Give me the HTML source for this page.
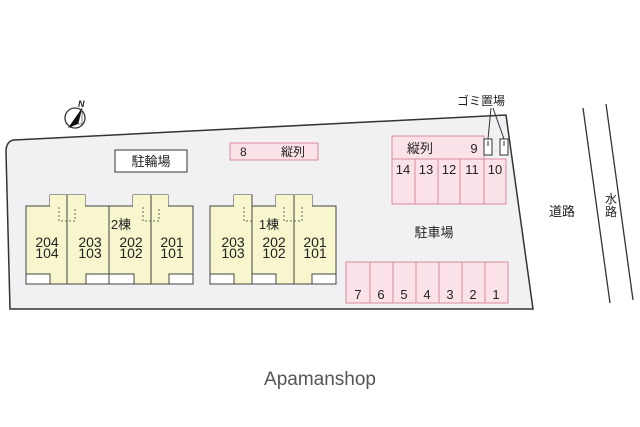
<!DOCTYPE html>
<html><head><meta charset="utf-8"><style>
html,body{margin:0;padding:0;background:#fff;}
svg{display:block;}
text{font-family:"Liberation Sans","Noto Sans CJK JP",sans-serif;fill:#222;}
</style></head><body>
<svg width="640" height="427" viewBox="0 0 640 427" xmlns="http://www.w3.org/2000/svg">
<path d="M14,140 L506,115 L533,309 L10,309 L6,152 Q6,141 14,140 Z" fill="#f1f1f3" stroke="#333" stroke-width="1.5"/>
<circle cx="75" cy="118" r="10" fill="#fff" stroke="#333" stroke-width="1.3"/>
<path d="M82,108 L68,128 L78,124 Z" fill="#111"/>
<path d="M82,108 L78,124 L82,124 Z" fill="#fff" stroke="#333" stroke-width="0.6"/>
<text x="78" y="107" font-size="9" font-style="italic" font-weight="bold">N</text>
<rect x="115" y="150" width="72" height="22" fill="#fff" stroke="#333"/>
<text x="151" y="166" font-size="13" text-anchor="middle">駐輪場</text>
<rect x="230" y="143" width="88" height="17" fill="#fbe2e8" stroke="#d98a9a"/>
<text x="240" y="156" font-size="12">8</text>
<text x="293" y="156" font-size="12" text-anchor="middle">縦列</text>
<g fill="#f8f6cc" stroke="#444" stroke-width="1">
<rect x="50" y="195" width="35" height="12"/>
<rect x="133" y="195" width="35" height="12"/>
<rect x="26" y="206" width="167" height="78"/>
<rect x="50" y="195" width="35" height="12" stroke="none"/>
<rect x="133" y="195" width="35" height="12" stroke="none"/>
<rect x="234" y="195" width="18" height="12"/>
<rect x="276" y="195" width="36" height="12"/>
<rect x="210" y="206" width="126" height="78"/>
<rect x="234" y="195" width="18" height="12" stroke="none"/>
<rect x="276" y="195" width="36" height="12" stroke="none"/>
</g>
<g stroke="#444" fill="none">
<path d="M67,195V284M109,206V284M151,195V284M252,195V284M294,195V284"/>
</g>
<g stroke="#666" stroke-dasharray="2,2" fill="none">
<path d="M59,207V221H75V207M143,207V221H159V207M244,207V221H252M284,207V221H302V207"/>
</g>
<g fill="#fff" stroke="#444">
<rect x="26" y="274" width="24" height="10"/><rect x="86" y="274" width="23" height="10"/>
<rect x="109" y="274" width="25" height="10"/><rect x="169" y="274" width="24" height="10"/>
<rect x="210" y="274" width="24" height="10"/><rect x="252" y="274" width="24" height="10"/>
<rect x="312" y="274" width="24" height="10"/>
</g>
<g font-size="14" text-anchor="middle">
<text x="47" y="247">204</text><text x="47" y="258">104</text>
<text x="90" y="247">203</text><text x="90" y="258">103</text>
<text x="131" y="247">202</text><text x="131" y="258">102</text>
<text x="172" y="247">201</text><text x="172" y="258">101</text>
<text x="233" y="247">203</text><text x="233" y="258">103</text>
<text x="274" y="247">202</text><text x="274" y="258">102</text>
<text x="315" y="247">201</text><text x="315" y="258">101</text>
<text x="121" y="229" font-size="13">2棟</text><text x="269" y="229" font-size="13">1棟</text>
</g>
<g fill="#fbe2e8" stroke="#d98a9a">
<rect x="392" y="136" width="92" height="23"/>
<rect x="392" y="159" width="23" height="45"/><rect x="415" y="159" width="23" height="45"/>
<rect x="438" y="159" width="22" height="45"/><rect x="460" y="159" width="24" height="45"/>
<rect x="484" y="159" width="22" height="45"/>
</g>
<g fill="#fff" stroke="#333">
<rect x="484" y="139" width="8" height="16"/><rect x="500" y="139" width="8" height="16"/>
</g>
<path d="M488,141V146M504,141V146M491,108L488,139M493,108L504,139" stroke="#333" fill="none"/>
<text x="481" y="105" font-size="12" text-anchor="middle">ゴミ置場</text>
<g font-size="13" text-anchor="middle">
<text x="420" y="153">縦列</text><text x="474" y="153">9</text>
<text x="403" y="174">14</text><text x="426" y="174">13</text><text x="449" y="174">12</text>
<text x="472" y="174">11</text><text x="495" y="174">10</text>
</g>
<g fill="#fbe2e8" stroke="#d98a9a">
<rect x="346" y="262" width="24" height="41"/><rect x="370" y="262" width="23" height="41"/>
<rect x="393" y="262" width="23" height="41"/><rect x="416" y="262" width="23" height="41"/>
<rect x="439" y="262" width="23" height="41"/><rect x="462" y="262" width="23" height="41"/>
<rect x="485" y="262" width="23" height="41"/>
</g>
<g font-size="13" text-anchor="middle">
<text x="358" y="299">7</text><text x="381" y="299">6</text><text x="404" y="299">5</text>
<text x="427" y="299">4</text><text x="450" y="299">3</text><text x="473" y="299">2</text>
<text x="496" y="299">1</text>
</g>
<text x="434" y="237" font-size="13" text-anchor="middle">駐車場</text>
<text x="562" y="216" font-size="13" text-anchor="middle">道路</text>
<path d="M583,108L610,303M606,104L633,300" stroke="#333" stroke-width="1.3"/>
<text x="611" y="203" font-size="12" text-anchor="middle">水</text>
<text x="611" y="216" font-size="12" text-anchor="middle">路</text>
<text x="320" y="385" font-size="19" text-anchor="middle" style="fill:#555">Apamanshop</text>
</svg>
</body></html>
